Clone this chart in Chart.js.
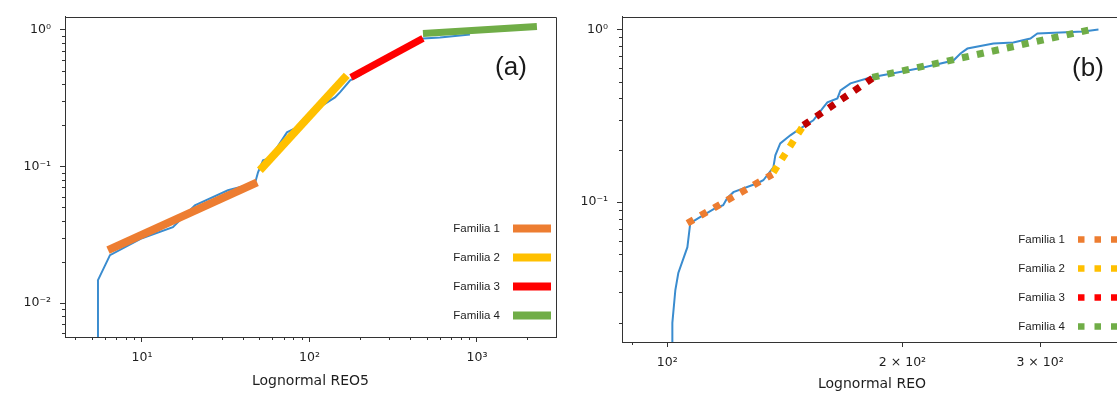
<!DOCTYPE html>
<html>
<head>
<meta charset="utf-8">
<script src="https://cdn.jsdelivr.net/npm/chart.js@4.4.1/dist/chart.umd.min.js"></script>
<style>
  html, body { margin: 0; padding: 0; background: #fff; overflow: hidden; width: 1117px; height: 396px; }
  #chartA { position: absolute; left: 0; top: 0; }
  #chartB { position: absolute; left: 560px; top: 0; }
</style>
</head>
<body>
<canvas id="chartA" width="560" height="396"></canvas>
<canvas id="chartB" width="567" height="396"></canvas>
<script>
// ---- panel (a): Lognormal REO5 ----
const aCdfX = [5.46, 5.46, 6.44, 10.0, 15.3, 20.7, 32.6, 47.3, 49.3, 52.8, 58.1, 73.4, 81.9, 96.6, 142, 152, 175, 200, 230, 476, 601, 792, 908];
const aCdfY = [0.0056, 0.0147, 0.0224, 0.0298, 0.0359, 0.0519, 0.0668, 0.0751, 0.0904, 0.1106, 0.1144, 0.177, 0.189, 0.236, 0.319, 0.347, 0.425, 0.462, 0.519, 0.860, 0.874, 0.904, 0.92];
const aFam1X = [6.27, 48.7], aFam1Y = [0.0244, 0.0764];
const aFam2X = [50.6, 167],  aFam2Y = [0.0935, 0.462];
const aFam3X = [177, 476],   aFam3Y = [0.446, 0.86];
const aFam4X = [476, 2280],  aFam4Y = [0.935, 1.05];
const aXTicks = [10, 100, 1000], aXTickLabels = ['10¹', '10²', '10³'];
const aYTicks = [0.01, 0.1, 1],  aYTickLabels = ['10⁻²', '10⁻¹', '10⁰'];

// ---- panel (b): Lognormal REO ----
const bCdfX = [101.5, 101.5, 102.4, 103.3, 106.1, 107.0, 109.6, 115.2, 117.9, 119.3, 121.5, 130.4, 132.7, 136.7, 137.5, 139.5, 143.7, 148.1, 153.8, 158.4, 160.3, 165.1, 166.6, 171.6, 181.9, 197.0, 212.7, 232.4, 237.3, 242.2, 261.5, 277.3, 291.6, 297.7, 318.6, 341.0, 356.4];
const bCdfY = [0.015, 0.0200, 0.0310, 0.0389, 0.0549, 0.0756, 0.0809, 0.0923, 0.0961, 0.1055, 0.1143, 0.1288, 0.134, 0.159, 0.187, 0.219, 0.244, 0.268, 0.298, 0.354, 0.379, 0.399, 0.444, 0.488, 0.528, 0.564, 0.603, 0.662, 0.727, 0.776, 0.830, 0.841, 0.887, 0.948, 0.961, 0.974, 1.0];
const bFam1X = [106.1, 136.3], bFam1Y = [0.0756, 0.145];
const bFam2X = [136.7, 149.4], bFam2Y = [0.149, 0.279];
const bFam3X = [149.4, 183.0], bFam3Y = [0.279, 0.521];
const bFam4X = [183.0, 353.2], bFam4Y = [0.528, 1.013];
const bXTicks = [100, 200, 300], bXTickLabels = ['10²', '2 × 10²', '3 × 10²'];
const bYTicks = [0.1, 1],        bYTickLabels = ['10⁻¹', '10⁰'];

const familyNames = ['Familia 1', 'Familia 2', 'Familia 3', 'Familia 4'];
const famColors = ['#ED7D31', '#FFC000', '#FF0000', '#70AD47'];
const famColorsB = ['#ED7D31', '#FFC000', '#C00000', '#70AD47'];
const cdfColor = '#3a8ccf';
const textColor = '#1e1e1e';

const pts = (xs, ys) => xs.map((x, i) => ({ x: x, y: ys[i] }));

// minor tick positions (2..9 x 10^k) inside a range
function minorTicks(min, max) {
  const out = [];
  for (let k = Math.floor(Math.log10(min)); k <= Math.ceil(Math.log10(max)); k++) {
    for (let m = 2; m <= 9; m++) {
      const v = m * Math.pow(10, k);
      if (v >= min && v <= max) out.push(v);
    }
  }
  return out;
}

// frame, minor ticks, legend and panel tag
const extras = {
  id: 'extras',
  afterDraw(chart, args, o) {
    const { ctx, chartArea: ca } = chart;
    const xs = chart.scales.x, ys = chart.scales.y;
    ctx.save();
    ctx.strokeStyle = '#333';
    ctx.lineWidth = 1;
    ctx.beginPath();
    ctx.moveTo(Math.round(ca.left) + 0.5, Math.round(ca.top) + 0.5);
    ctx.lineTo(Math.round(ca.right) + 0.5, Math.round(ca.top) + 0.5);
    ctx.lineTo(Math.round(ca.right) + 0.5, Math.round(ca.bottom) + 0.5);
    ctx.stroke();

    ctx.beginPath();
    o.minorX.filter(v => !o.skipX.includes(v)).forEach(v => {
      const px = Math.round(xs.getPixelForValue(v)) + 0.5;
      ctx.moveTo(px, ca.bottom);
      ctx.lineTo(px, ca.bottom + 3);
    });
    o.minorY.forEach(v => {
      const py = Math.round(ys.getPixelForValue(v)) + 0.5;
      ctx.moveTo(ca.left, py);
      ctx.lineTo(ca.left - 3, py);
    });
    ctx.stroke();

    // legend
    const L = o.legend;
    ctx.font = '11.5px "Liberation Sans", Arial, sans-serif';
    ctx.textAlign = 'right';
    ctx.textBaseline = 'middle';
    familyNames.forEach((name, i) => {
      const y = ca.top + L.firstY + i * L.gap;
      ctx.fillStyle = textColor;
      ctx.fillText(name, ca.right - L.textRight, y);
      ctx.beginPath();
      ctx.strokeStyle = L.colors[i];
      ctx.lineWidth = L.width;
      ctx.setLineDash(L.dash);
      ctx.moveTo(ca.right - L.lineStart, y);
      ctx.lineTo(ca.right - L.lineEnd, y);
      ctx.stroke();
      ctx.setLineDash([]);
    });

    // tag
    ctx.fillStyle = '#1a1a1a';
    ctx.textAlign = 'center';
    ctx.font = '26px "Liberation Sans", Arial, sans-serif';
    ctx.fillText(o.tag, ca.right - o.tagRight, ca.top + o.tagTop);
    ctx.restore();
  }
};

function makeScale(min, max, ticks, labels, size, pad, title, titlePad) {
  const s = {
    type: 'logarithmic',
    min: min,
    max: max,
    border: { display: true, color: '#333', width: 1 },
    grid: { display: true, drawOnChartArea: false, drawTicks: true, tickLength: 5, color: '#333' },
    afterBuildTicks: sc => { sc.ticks = ticks.map(v => ({ value: v })); },
    ticks: {
      autoSkip: false,
      maxRotation: 0,
      padding: pad,
      color: textColor,
      font: { family: 'DejaVu Sans', size: 12.5 },
      callback: (v) => {
        const i = ticks.indexOf(v);
        return i >= 0 ? labels[i] : '';
      }
    },
    afterFit: sc => {
      if (sc.isHorizontal()) sc.height = size; else sc.width = size;
    }
  };
  if (title) {
    s.title = { display: true, text: title, color: textColor, font: { family: 'DejaVu Sans', size: 14 }, padding: { top: 0, bottom: titlePad } };
  }
  return s;
}

function fitSet(xs, ys, color, width, dash) {
  return {
    data: pts(xs, ys),
    borderColor: color,
    borderWidth: width,
    borderDash: dash || [],
    borderCapStyle: 'butt',
    pointRadius: 0,
    tension: 0,
    order: 1,
    clip: 8
  };
}

new Chart(document.getElementById('chartA'), {
  type: 'line',
  data: {
    datasets: [
      { data: pts(aCdfX, aCdfY), borderColor: cdfColor, borderWidth: 2, pointRadius: 0, tension: 0, order: 2, clip: 0 },
      fitSet(aFam1X, aFam1Y, famColors[0], 8),
      fitSet(aFam2X, aFam2Y, famColors[1], 8),
      fitSet(aFam3X, aFam3Y, famColors[2], 7),
      fitSet(aFam4X, aFam4Y, famColors[3], 7)
    ]
  },
  options: {
    responsive: false,
    animation: false,
    devicePixelRatio: 1,
    layout: { padding: { top: 16, right: 4, left: 0, bottom: 0 } },
    plugins: {
      legend: { display: false },
      tooltip: { enabled: false },
      extras: {
        tag: '(a)', tagRight: 45, tagTop: 51,
        minorX: minorTicks(3.47, 2965), skipX: [],
        minorY: minorTicks(0.00565, 1.244),
        legend: { colors: famColors, width: 8, dash: [], firstY: 212, gap: 29, textRight: 56, lineStart: 43, lineEnd: 5 }
      }
    },
    scales: {
      x: makeScale(3.47, 2965, aXTicks, aXTickLabels, 59, 8, 'Lognormal REO5', 6),
      y: makeScale(0.00565, 1.244, aYTicks, aYTickLabels, 65, 9)
    }
  },
  plugins: [extras]
});

new Chart(document.getElementById('chartB'), {
  type: 'line',
  data: {
    datasets: [
      { data: pts(bCdfX, bCdfY), borderColor: cdfColor, borderWidth: 2, pointRadius: 0, tension: 0, order: 2, clip: 0 },
      fitSet(bFam1X, bFam1Y, famColorsB[0], 7, [7, 8.3]),
      fitSet(bFam2X, bFam2Y, famColorsB[1], 7, [7, 8.3]),
      fitSet(bFam3X, bFam3Y, famColorsB[2], 7, [7, 8.3]),
      fitSet(bFam4X, bFam4Y, famColorsB[3], 7, [7, 8.3])
    ]
  },
  options: {
    responsive: false,
    animation: false,
    devicePixelRatio: 1,
    layout: { padding: { top: 16, right: 5, left: 0, bottom: 0 } },
    plugins: {
      legend: { display: false },
      tooltip: { enabled: false },
      extras: {
        tag: '(b)', tagRight: 34, tagTop: 52,
        minorX: minorTicks(87.5, 382), skipX: [200, 300],
        minorY: minorTicks(0.0155, 1.19),
        legend: { colors: famColors, width: 6.5, dash: [6.5, 10], firstY: 223, gap: 29, textRight: 57, lineStart: 44, lineEnd: -10 }
      }
    },
    scales: {
      x: makeScale(87.5, 382, bXTicks, bXTickLabels, 54, 8, 'Lognormal REO', 3),
      y: makeScale(0.0155, 1.19, bYTicks, bYTickLabels, 62, 9)
    }
  },
  plugins: [extras]
});
</script>
</body>
</html>
